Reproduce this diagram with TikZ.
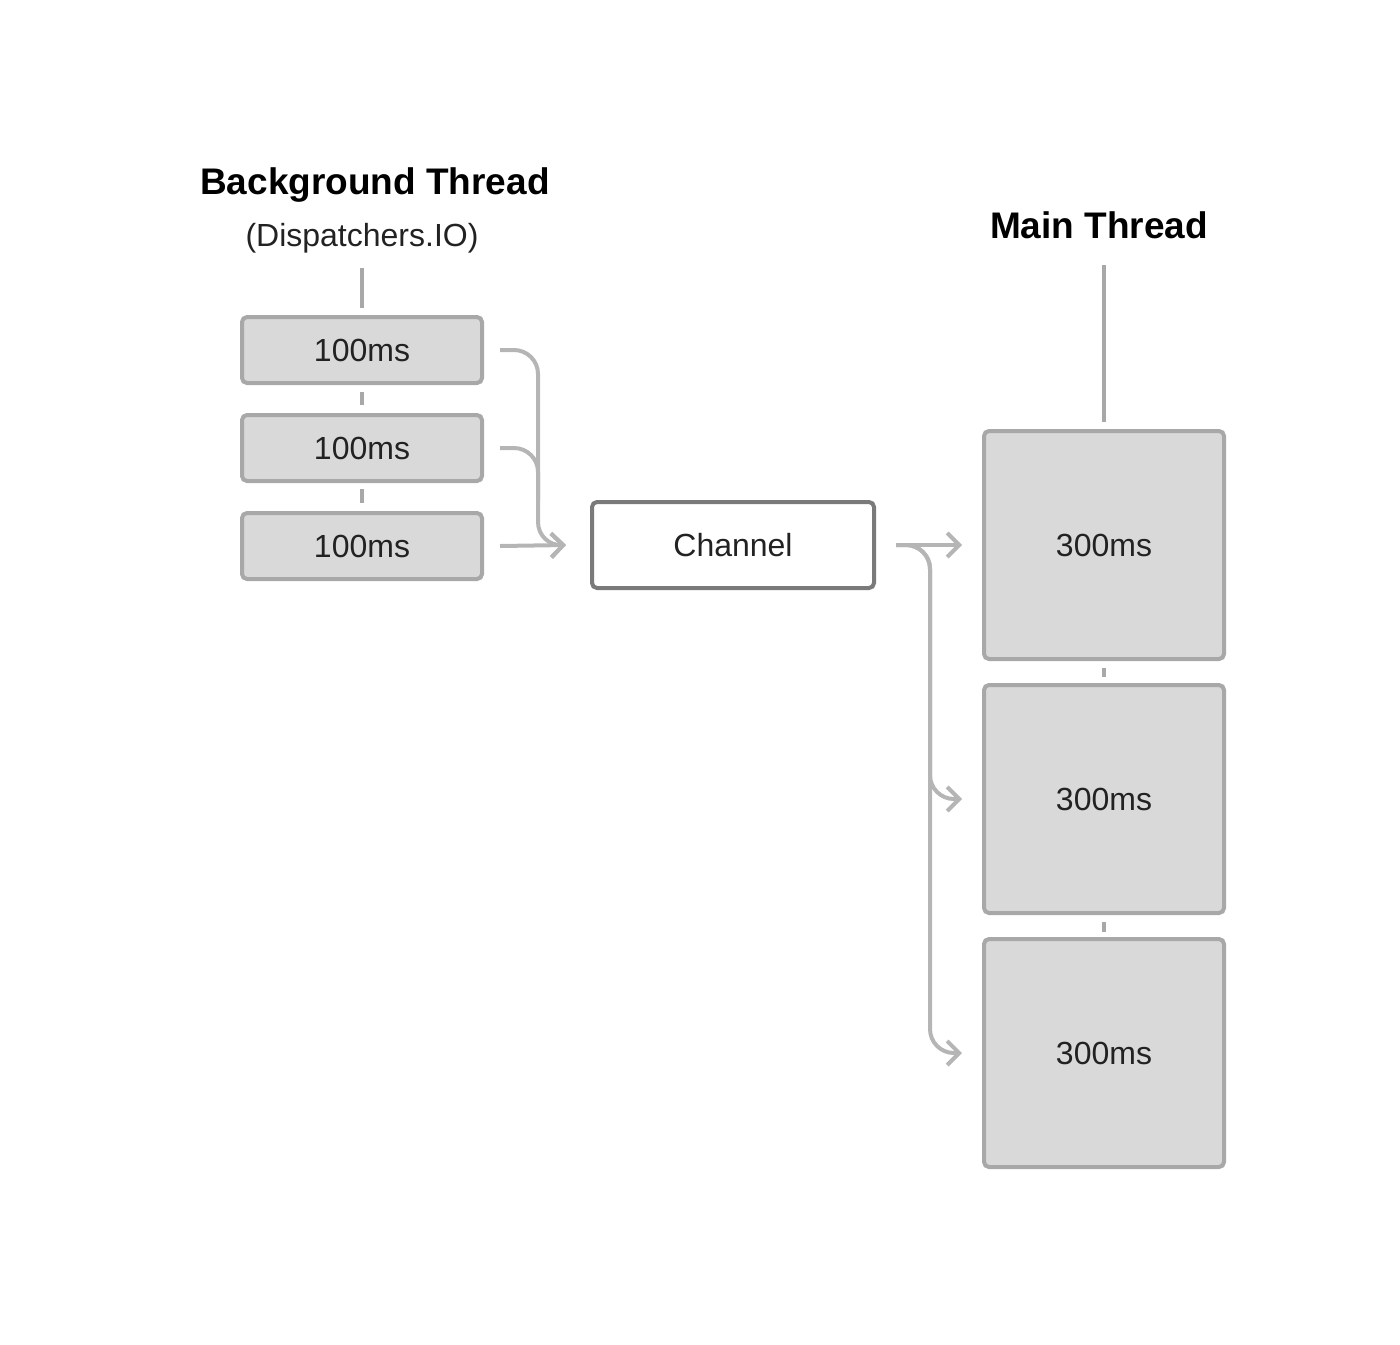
\documentclass[tikz,border=0pt]{standalone}
\usepackage{fontspec}
\setmainfont{Liberation Sans}
\usetikzlibrary{arrows.meta}
\definecolor{boxfill}{HTML}{D9D9D9}
\definecolor{boxline}{HTML}{A8A8A8}
\definecolor{chline}{HTML}{7A7A7A}
\definecolor{arr}{HTML}{B5B5B5}
\definecolor{txt}{HTML}{222222}
\begin{document}
\begin{tikzpicture}[x=0.5pt,y=-0.5pt,
  box/.style={draw=boxline,fill=boxfill,line width=2pt,rounded corners=2.5pt,inner sep=0pt,text=txt,font=\fontsize{16}{19}\selectfont},
  small/.style={box,minimum width=120pt,minimum height=33pt},
  big/.style={box,minimum width=120pt,minimum height=114pt},
  tick/.style={draw=boxline,line width=2pt},
  conn/.style={draw=arr,line width=2pt,rounded corners=12pt,-{Straight Barb[length=6pt,width=12pt,line width=2pt]}},
  head/.style={font=\bfseries\fontsize{18.5}{22}\selectfont}]
\useasboundingbox (0,0) rectangle (1400,1344);
\node[head] (bt) at (375,185) {Background Thread};
\node[font=\fontsize{16}{19}\selectfont,text=txt] (disp) at (362,238) {(Dispatchers.IO)};
\node[small] (a1) at (362,350) {100ms};
\node[small] (a2) at (362,448) {100ms};
\node[small] (a3) at (362,546) {100ms};
\node[box,fill=white,draw=chline,minimum width=141pt,minimum height=43pt,font=\fontsize{16}{19}\selectfont] (ch) at (733,545) {Channel};
\node[head] (mt) at (1099,225) {Main Thread};
\node[big] (b1) at (1104,545) {300ms};
\node[big] (b2) at (1104,799) {300ms};
\node[big] (b3) at (1104,1053) {300ms};
\coordinate (t1) at (362,268); \coordinate (t2) at (362,308);
\draw[tick] (t1) -- (t2);
\coordinate (m1) at (1104,265); \coordinate (m2) at (1104,422);
\draw[tick] (m1) -- (m2);
\draw[tick] (362,392) -- (362,405);
\draw[tick] (362,489) -- (362,503);
\draw[tick] (1104,668) -- (1104,677);
\draw[tick] (1104,922) -- (1104,932);
\draw[conn] ([xshift=8]a1.east) -| (538,546) -- ([xshift=-12]ch.west);
\draw[draw=arr,line width=2pt,rounded corners=12pt] ([xshift=8]a2.east) -| (538,500);
\draw[conn] ([xshift=8]a3.east) -- ([xshift=-12]ch.west);
\draw[conn] ([xshift=10]ch.east) -- ([xshift=-10]b1.west);
\draw[conn] ([xshift=10]ch.east) -| (930,799) -- ([xshift=-10]b2.west);
\draw[conn] ([xshift=10]ch.east) -| (930,1053) -- ([xshift=-10]b3.west);
\end{tikzpicture}
\end{document}
